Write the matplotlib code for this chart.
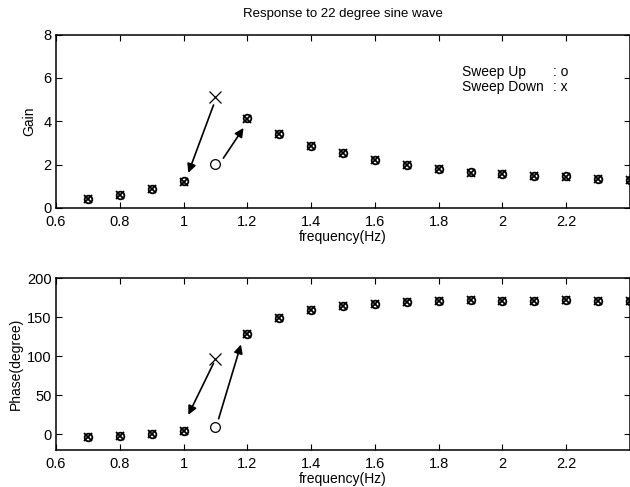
import matplotlib
matplotlib.use("Agg")
import matplotlib.pyplot as plt

plt.rcParams['font.family'] = ['Liberation Sans Narrow', 'Liberation Sans', 'DejaVu Sans']

# sweep frequencies (Hz); 1.1 Hz is the jump point, plotted separately
freq = [0.7, 0.8, 0.9, 1.0, 1.2, 1.3, 1.4, 1.5, 1.6, 1.7, 1.8,
        1.9, 2.0, 2.1, 2.2, 2.3, 2.4]
gain_up = [0.41, 0.61, 0.89, 1.23, 4.14, 3.40, 2.88, 2.53, 2.22, 1.99, 1.79,
           1.64, 1.58, 1.49, 1.46, 1.33, 1.30]
gain_down = [0.40, 0.60, 0.88, 1.22, 4.12, 3.39, 2.87, 2.52, 2.21, 1.98, 1.78,
             1.63, 1.57, 1.48, 1.45, 1.32, 1.29]
phase_up = [-3, -2, 1, 4, 128, 149, 159, 164, 167, 169, 171,
            172, 171, 171, 172, 171, 171]
phase_down = [-3, -2, 1, 4, 128, 149, 159, 164, 167, 169, 171,
              172, 171, 171, 172, 171, 171]

# the jump at 1.1 Hz
jump_freq = 1.1
jump_gain_up = 2.04
jump_gain_down = 5.10
jump_phase_up = 9
jump_phase_down = 97

# arrows (start -> tip) in data coords
gain_arrows = [((1.094, 4.75), (1.015, 1.62)), ((1.125, 2.3), (1.188, 3.69))]
phase_arrows = [((1.094, 91), (1.015, 25)), ((1.11, 20), (1.18, 115))]

xticks = [0.6, 0.8, 1.0, 1.2, 1.4, 1.6, 1.8, 2.0, 2.2, 2.4]
xticklabels = ["0.6", "0.8", "1", "1.2", "1.4", "1.6", "1.8", "2", "2.2", ""]

fig = plt.figure(figsize=(6.3, 4.87), dpi=100)
ax1 = fig.add_axes([0.0889, 0.573, 0.9111, 0.356])
ax2 = fig.add_axes([0.0889, 0.076, 0.9111, 0.353])


def style(ax):
    ax.set_xlim(0.6, 2.4)
    ax.set_xticks(xticks)
    ax.set_xticklabels(xticklabels)
    ax.tick_params(direction='in', length=4, width=0.8, top=True, right=True,
                   labelsize=10.5)
    ax.tick_params(axis='x', pad=5)
    ax.tick_params(axis='y', pad=3)
    for s in ax.spines.values():
        s.set_linewidth(1.1)
    ax.set_xlabel("frequency(Hz)", fontsize=10, labelpad=1)


def draw(ax, up, down, j_up, j_down, arrows):
    ax.plot(freq, up, 'o', ms=5.5, mfc='none', mec='black', mew=1.3)
    ax.plot(freq, down, 'x', ms=5.5, color='black', mew=1.3)
    ax.plot([jump_freq], [j_up], 'o', ms=7, mfc='none', mec='black', mew=0.9)
    ax.plot([jump_freq], [j_down], 'x', ms=8, color='black', mew=0.9)
    for start, tip in arrows:
        ax.annotate("", xy=tip, xytext=start,
                    arrowprops=dict(arrowstyle='-|>', color='black', lw=1.2,
                                    mutation_scale=13, shrinkA=0, shrinkB=0))


# gain
draw(ax1, gain_up, gain_down, jump_gain_up, jump_gain_down, gain_arrows)
ax1.set_ylim(0, 8)
ax1.set_yticks([0, 2, 4, 6, 8])
style(ax1)
ax1.set_ylabel("Gain", fontsize=10, labelpad=5)
ax1.text(0.707, 0.784, "Sweep Up", transform=ax1.transAxes, fontsize=10, va='center')
ax1.text(0.707, 0.697, "Sweep Down", transform=ax1.transAxes, fontsize=10, va='center')
ax1.text(0.866, 0.784, ": o", transform=ax1.transAxes, fontsize=10, va='center')
ax1.text(0.866, 0.697, ": x", transform=ax1.transAxes, fontsize=10, va='center')

# phase
draw(ax2, phase_up, phase_down, jump_phase_up, jump_phase_down, phase_arrows)
ax2.set_ylim(-20, 200)
ax2.set_yticks([0, 50, 100, 150, 200])
style(ax2)
ax2.set_ylabel("Phase(degree)", fontsize=10, labelpad=3)

fig.text(0.545, 0.972, "Response to 22 degree sine wave", ha='center', va='center',
         fontsize=9.5)

fig.savefig("out.png", dpi=100)
